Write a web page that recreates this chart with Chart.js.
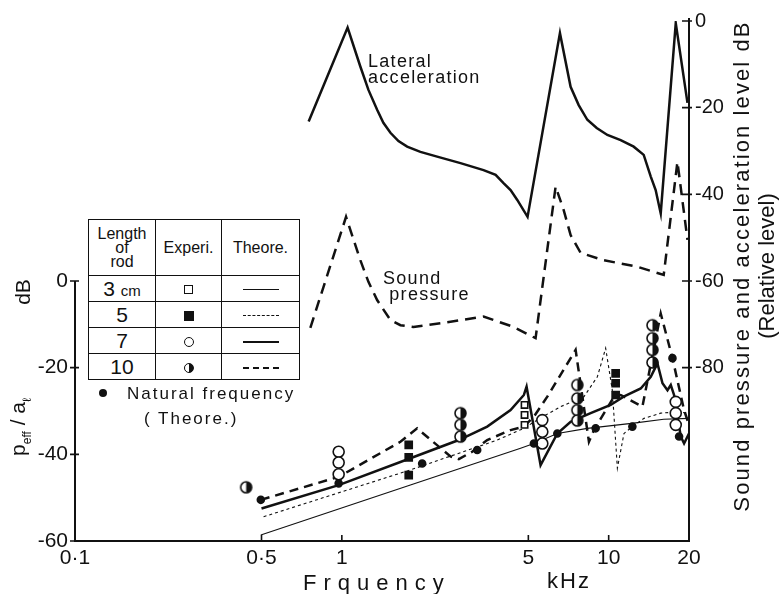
<!DOCTYPE html>
<html lang="en">
<head>
<meta charset="UTF-8" />
<title>Sound pressure and lateral acceleration of a vibrating rod</title>
<script src="https://cdn.jsdelivr.net/npm/chart.js"></script>
<style>
  body { margin: 0; background: #fff; }
  #wrap { position: relative; width: 779px; height: 594px; font-family: "Liberation Sans", Arial, sans-serif; color: #111; }
  #wrap canvas { position: absolute; left: 0; top: 0; }
  .lbl { position: absolute; white-space: nowrap; line-height: 1; }
  .rot { transform: translate(-50%, -50%) rotate(-90deg); }
  .note { font-size: 18px; letter-spacing: 1.3px; line-height: 16px; }
  .key { position: absolute; left: 88px; top: 219px; border-collapse: collapse; background: #fff; }
  .key td { border: 1.6px solid #111; padding: 0; text-align: center; height: 25px; font-size: 21px; }
  .key tr.head td { height: 55px; font-size: 16px; line-height: 14px; }
  .key small { font-size: 15px; }
  .mk { display: inline-block; box-sizing: border-box; vertical-align: middle; border: 1.6px solid #111; }
  .sq { width: 9px; height: 9px; }
  .sqf { width: 10px; height: 10px; background: #111; }
  .ci { width: 10px; height: 10px; border-radius: 50%; }
  .hf { width: 10px; height: 10px; border-radius: 50%; background: linear-gradient(to right, #fff 45%, #111 45%); }
  .ln { display: inline-block; width: 36px; vertical-align: middle; }
  .l3 { border-top: 1px solid #111; }
  .l5 { border-top: 1px dashed #111; }
  .l7 { border-top: 2.5px solid #111; }
  .l10 { border-top: 2.5px dashed #111; }
</style>
</head>
<body>
<div id="wrap">
  <canvas id="rodChart" width="779" height="594"></canvas>

  <div class="lbl note" style="left:368px; top:53px;">Lateral<br>acceleration</div>
  <div class="lbl note" style="left:383px; top:270px;">Sound<br>&nbsp;pressure</div>

  <table class="key">
    <tr class="head"><td style="width:66px">Length<br>of<br>rod</td><td style="width:65px">Experi.</td><td style="width:77px">Theore.</td></tr>
    <tr><td>3 <small>cm</small></td><td><span class="mk sq"></span></td><td><span class="ln l3"></span></td></tr>
    <tr><td>5</td><td><span class="mk sqf"></span></td><td><span class="ln l5"></span></td></tr>
    <tr><td>7</td><td><span class="mk ci"></span></td><td><span class="ln l7"></span></td></tr>
    <tr><td>10</td><td><span class="mk hf"></span></td><td><span class="ln l10"></span></td></tr>
  </table>

  <div class="lbl" style="left:99px; top:389px; width:8px; height:8px; border-radius:50%; background:#111;"></div>
  <div class="lbl note" style="left:127px; top:386px; font-size:17px; letter-spacing:2px;">Natural frequency</div>
  <div class="lbl note" style="left:144px; top:411px; font-size:17px; letter-spacing:2px;">( Theore.)</div>

  <div class="lbl rot" style="left:22px; top:292px; font-size:21px;">dB</div>
  <div class="lbl rot" style="left:20px; top:427px; font-size:21px;">p<sub style="font-size:12px">eff</sub> / a<sub style="font-size:12px">ℓ</sub></div>

  <div class="lbl rot" style="left:742px; top:266px; font-size:22px; letter-spacing:2.1px;">Sound pressure and acceleration level dB</div>
  <div class="lbl rot" style="left:767px; top:266px; font-size:22px; letter-spacing:0px;">(Relative level)</div>

  <div class="lbl" style="left:303px; top:572px; font-size:22px; letter-spacing:7px;">Frquency</div>
  <div class="lbl" style="left:547px; top:570px; font-size:22px; letter-spacing:2px;">kHz</div>
</div>

<script>
  // frequency axis (kHz)
  const xTicks = [0.1, 0.5, 1, 5, 10, 20];
  const xTickText = ['0·1', '0·5', '1', '5', '10', '20'];
  const leftTicks = [-60, -40, -20, 0];
  const rightTicks = [0, -20, -40, -60, -80];

  // upper curves, right axis (relative level, dB)
  const accelFreq = [0.751, 1.051, 1.173, 1.258, 1.356, 1.431, 1.521, 1.63, 1.757, 1.97, 2.276, 2.784, 3.396, 3.77, 4.036, 4.289, 4.544, 4.966,
                     6.567, 7.2, 7.72, 8.318, 9.02, 9.89, 11.09, 12.41, 13.53, 14.38, 15.0, 15.67, 17.84, 19.74];
  const accelLevel = [-23.2, -1.5, -10.5, -15.9, -20.5, -23.5, -25.8, -27.7, -29.0, -30.2, -31.3, -32.8, -34.4, -35.5, -37.4, -39.0, -41.3, -45.2,
                      -2.8, -15.2, -19.4, -22.8, -24.7, -26.3, -27.5, -29.0, -30.9, -35.9, -39.0, -44.4, -0.5, -18.9];
  const soundFreq = [0.762, 1.037, 1.173, 1.258, 1.356, 1.521, 1.658, 1.855, 2.554, 3.396, 4.401, 5.322, 6.327, 6.779, 7.2, 7.849, 9.58, 12.81, 16.08, 18.1, 19.74];
  const soundLevel = [-70.8, -45.2, -55.2, -60.2, -64.4, -69.0, -70.2, -70.6, -69.4, -68.2, -70.6, -73.2, -38.2, -43.6, -49.4, -53.5, -55.2, -56.7, -58.6, -32.5, -50.5];

  // theoretical p_eff / a_l, left axis (dB), one curve per rod length
  const rod3Freq = [0.497, 1.807, 4.676, 5.245, 6.421, 8.318, 12.41, 16.08, 20];
  const rod3Db = [-58.6, -47.1, -38.6, -37.5, -35.2, -34.0, -32.8, -31.9, -31.7];
  const rod5Freq = [0.509, 1.807, 3.823, 4.811, 5.557, 6.606, 8.076, 9.07, 9.743, 10.32, 10.78, 11.41, 12.27, 13.57, 15.67, 18.1, 20];
  const rod5Db = [-54.4, -43.6, -36.7, -34.0, -31.6, -29.0, -26.7, -22.1, -15.5, -25.2, -43.2, -35.2, -33.6, -31.7, -30.5, -30.2, -30.5];
  const rod7Freq = [0.5, 0.973, 1.807, 2.744, 3.506, 4.289, 4.811, 4.924, 5.557, 6.421, 7.2, 8.559, 10.17, 11.38, 13.19, 14.38, 15.23, 15.91, 16.61, 17.09, 17.58, 18.63, 19.17, 20];
  const rod7Db = [-52.5, -47.1, -40.9, -36.7, -33.6, -29.8, -26.3, -24.4, -42.5, -35.2, -32.5, -30.5, -28.6, -26.7, -24.8, -22.1, -19.0, -23.6, -25.2, -24.0, -26.3, -35.9, -37.5, -35.2];
  const rod10Freq = [0.497, 0.973, 1.658, 1.915, 2.554, 2.744, 3.08, 3.506, 4.289, 4.811, 5.245, 5.888, 7.518, 8.434, 8.806, 10.47, 11.09, 13.38, 15.67, 17.34, 19.17, 20];
  const rod10Db = [-50.5, -45.2, -37.1, -34.0, -40.5, -41.1, -39.4, -36.7, -34.4, -33.6, -31.3, -26.7, -15.9, -37.1, -34.4, -26.7, -26.3, -29.0, -7.5, -17.8, -29.8, -33.2];

  // measured points
  const exp3Freq = [4.84, 4.84, 4.84];
  const exp3Db = [-28.6, -30.9, -33.2];
  const exp5Freq = [1.781, 1.781, 1.781, 10.62, 10.62, 10.62];
  const exp5Db = [-37.8, -40.7, -44.8, -21.3, -23.6, -26.3];
  const exp7Freq = [0.973, 0.973, 0.973, 5.64, 5.64, 5.64, 17.84, 17.84, 17.84];
  const exp7Db = [-39.4, -41.9, -44.6, -32.1, -34.8, -37.5, -27.9, -30.5, -33.2];
  const exp10Freq = [0.438, 2.784, 2.784, 2.784, 7.63, 7.63, 7.63, 7.63, 14.59, 14.59, 14.59, 14.59];
  const exp10Db = [-47.6, -30.5, -33.2, -35.9, -24.0, -27.1, -29.8, -32.2, -10.2, -13.2, -15.9, -18.8];

  // natural frequencies (theory)
  const natFreq = [0.497, 0.973, 2.0, 3.216, 5.245, 6.421, 8.937, 12.27, 17.34, 18.36];
  const natDb = [-50.5, -46.7, -42.1, -39.0, -37.5, -35.2, -34.0, -33.6, -17.8, -35.9];

  const ink = '#111';
  const pts = (fs, vs) => fs.map((f, i) => ({ x: f, y: vs[i] }));

  // circle with the right half filled, for the 10 cm rod
  function halfDot(r) {
    const c = document.createElement('canvas');
    c.width = c.height = 2 * r + 4;
    const g = c.getContext('2d');
    const m = r + 2;
    g.fillStyle = '#fff';
    g.beginPath(); g.arc(m, m, r, 0, 2 * Math.PI); g.fill();
    g.fillStyle = ink;
    g.beginPath(); g.arc(m, m, r, -Math.PI / 2, Math.PI / 2); g.closePath(); g.fill();
    g.strokeStyle = ink; g.lineWidth = 1.6;
    g.beginPath(); g.arc(m, m, r, 0, 2 * Math.PI); g.stroke();
    return c;
  }

  const curve = (data, axis, width, dash) => ({
    data, yAxisID: axis, showLine: true, borderColor: ink, borderWidth: width,
    borderDash: dash, pointRadius: 0, tension: 0, fill: false
  });
  const marks = (data, style, radius, bg) => ({
    data, yAxisID: 'y', showLine: false, pointStyle: style, pointRadius: radius,
    pointBackgroundColor: bg, pointBorderColor: ink, pointBorderWidth: 1.6
  });

  // axis lines and inward tick marks; the left axis only covers 0 .. -60 dB
  const frame = {
    id: 'frame',
    afterDraw(chart) {
      const { ctx, chartArea: a, scales: { x, y, y2 } } = chart;
      ctx.save();
      ctx.strokeStyle = ink;
      ctx.lineWidth = 2;
      ctx.beginPath();
      ctx.moveTo(a.left, y.getPixelForValue(0));
      ctx.lineTo(a.left, a.bottom);
      ctx.lineTo(a.right, a.bottom);
      ctx.lineTo(a.right, y2.getPixelForValue(0) - 3);
      ctx.stroke();
      ctx.lineWidth = 1.6;
      ctx.beginPath();
      xTicks.slice(1, -1).forEach(v => {
        const px = x.getPixelForValue(v);
        ctx.moveTo(px, a.bottom); ctx.lineTo(px, a.bottom - 6);
      });
      leftTicks.forEach(v => {
        const py = y.getPixelForValue(v);
        ctx.moveTo(a.left - 5, py); ctx.lineTo(a.left + 4, py);
      });
      rightTicks.forEach(v => {
        const py = y2.getPixelForValue(v);
        ctx.moveTo(a.right - 7, py); ctx.lineTo(a.right + 3, py);
      });
      ctx.stroke();
      ctx.restore();
    }
  };

  const tickFont = { family: '"Liberation Sans", Arial, sans-serif', size: 21 };

  new Chart(document.getElementById('rodChart'), {
    type: 'scatter',
    data: {
      datasets: [
        marks(pts(natFreq, natDb), 'circle', 3.5, ink),
        marks(pts(exp3Freq, exp3Db), 'rect', 4.5, '#fff'),
        marks(pts(exp5Freq, exp5Db), 'rect', 5, ink),
        marks(pts(exp7Freq, exp7Db), 'circle', 5.5, '#fff'),
        { data: pts(exp10Freq, exp10Db), yAxisID: 'y', showLine: false, pointStyle: halfDot(5.5), pointRadius: 5.5 },
        curve(pts(rod3Freq, rod3Db), 'y', 1.1, []),
        curve(pts(rod5Freq, rod5Db), 'y', 1.1, [3, 3]),
        curve(pts(rod7Freq, rod7Db), 'y', 2.5, []),
        curve(pts(rod10Freq, rod10Db), 'y', 2.5, [9, 6]),
        curve(pts(accelFreq, accelLevel), 'y2', 2.5, []),
        curve(pts(soundFreq, soundLevel), 'y2', 2.5, [11, 7])
      ]
    },
    options: {
      responsive: false,
      animation: false,
      layout: { padding: { top: 21 } },
      plugins: { legend: { display: false }, tooltip: { enabled: false } },
      scales: {
        x: {
          type: 'logarithmic', min: 0.1, max: 20,
          border: { display: false },
          grid: { display: false, drawTicks: false },
          afterBuildTicks: s => { s.ticks = xTicks.map(v => ({ value: v })); },
          afterFit: s => { s.height = 53; },
          ticks: {
            autoSkip: false, maxRotation: 0, padding: 5, color: ink, font: tickFont,
            callback: v => { const i = xTicks.indexOf(v); return i < 0 ? '' : xTickText[i]; }
          }
        },
        y: {
          position: 'left', min: -60, max: 60,
          border: { display: false },
          grid: { display: false, drawTicks: false },
          afterBuildTicks: s => { s.ticks = leftTicks.map(v => ({ value: v })); },
          afterFit: s => { s.width = 75; },
          ticks: { padding: 7, color: ink, font: tickFont, callback: v => String(v) }
        },
        y2: {
          position: 'right', min: -120, max: 0,
          border: { display: false },
          grid: { display: false, drawTicks: false },
          afterBuildTicks: s => { s.ticks = rightTicks.map(v => ({ value: v })); },
          afterFit: s => { s.width = 90; },
          ticks: { padding: 6, color: ink, font: { ...tickFont, size: 20 }, callback: v => String(v) }
        }
      }
    },
    plugins: [frame]
  });
</script>
</body>
</html>
